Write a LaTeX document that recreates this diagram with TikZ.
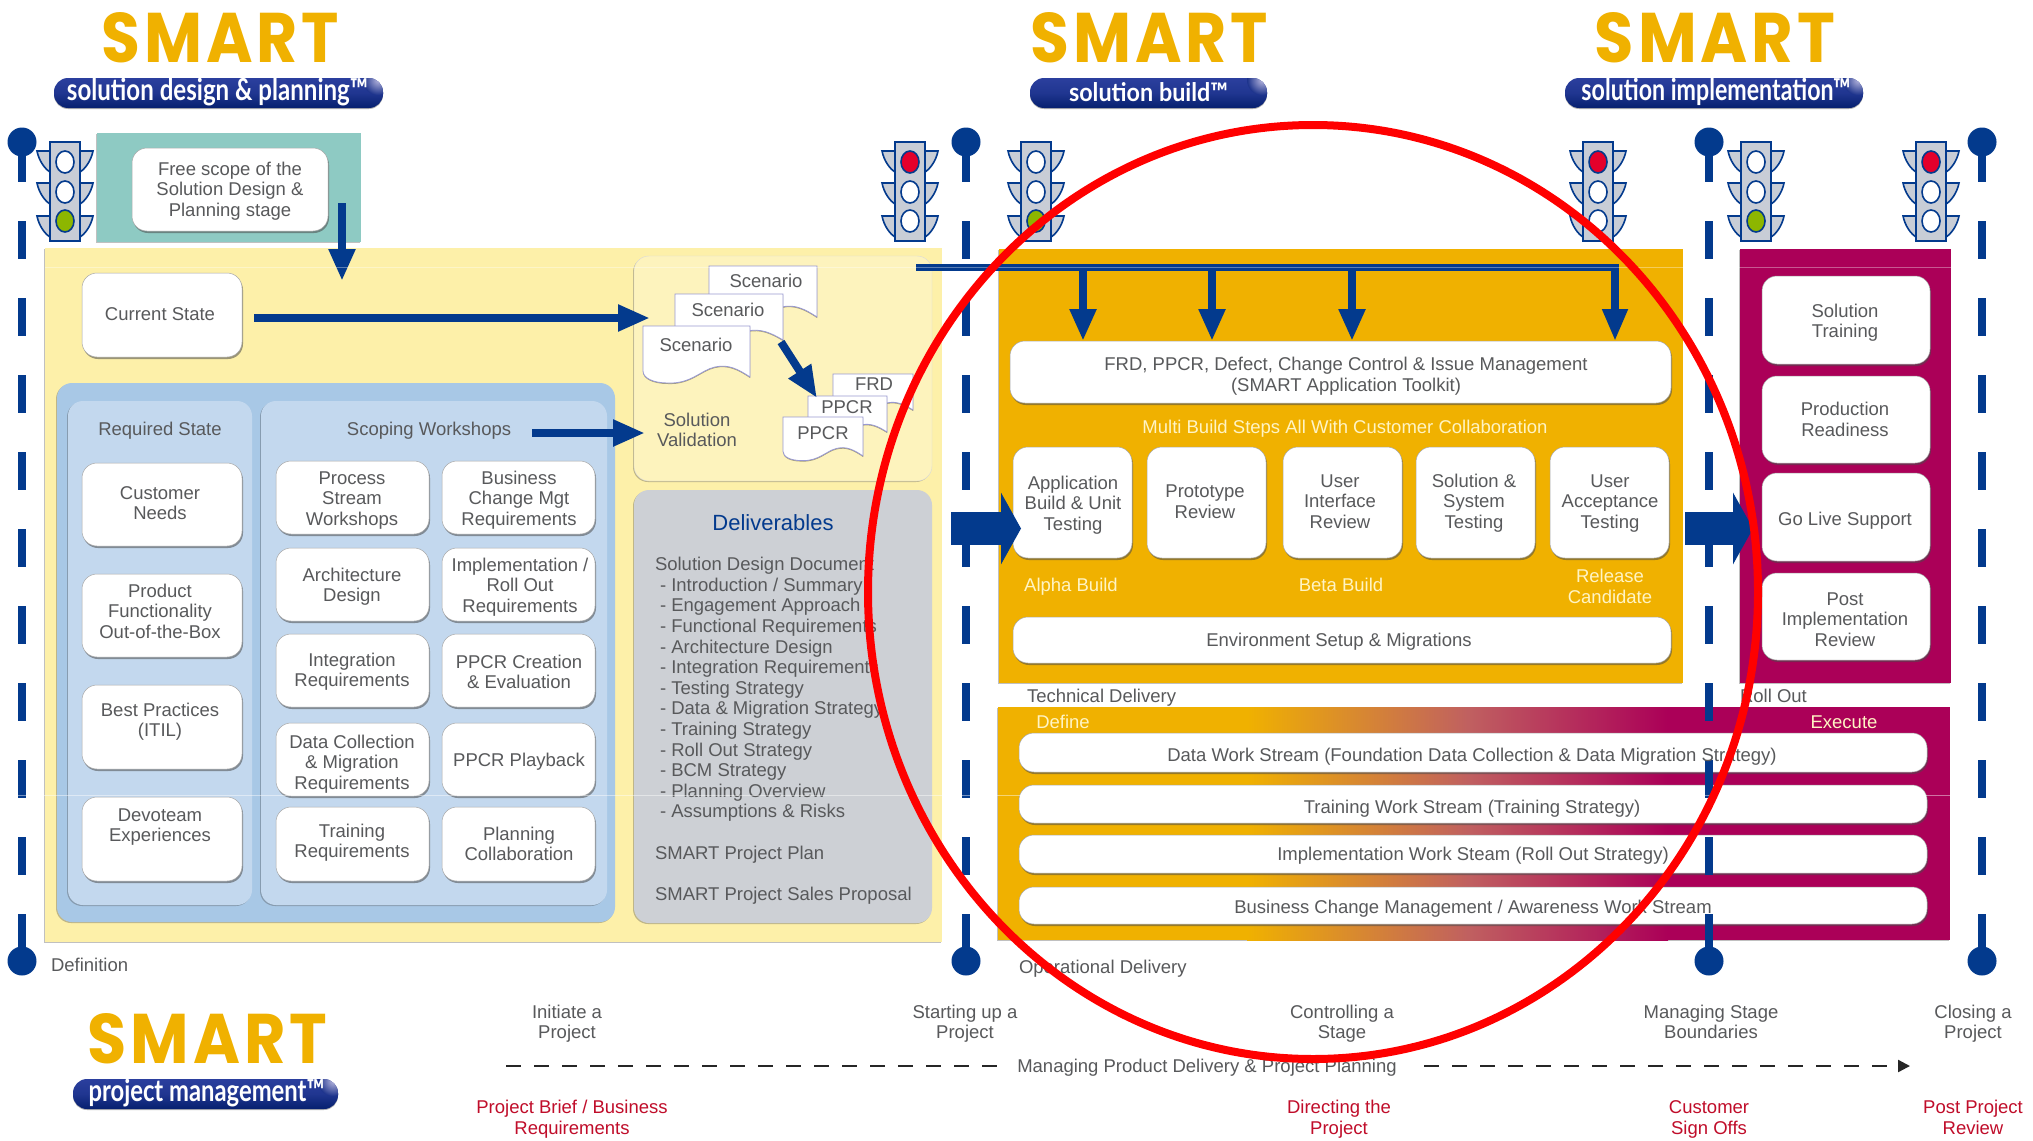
\documentclass[tikz,border=0pt]{standalone}
\usepackage{fontspec}
\usepackage{graphicx}
\setmainfont{Liberation Sans}
\newfontfamily\logofont[LetterSpace=6]{Poppins}
\newfontfamily\pillfont{Lato}
\usetikzlibrary{arrows.meta,shadows,calc}
\definecolor{navy}{HTML}{033A8D}
\definecolor{tgray}{HTML}{58595B}
\definecolor{gold}{HTML}{F0B100}
\definecolor{paleyellow}{HTML}{FDF0A9}
\definecolor{paleryellow}{HTML}{FDF3BD}
\definecolor{teal2}{HTML}{8ECAC3}
\definecolor{bluepanel}{HTML}{A8C8E6}
\definecolor{blueinner}{HTML}{C3D8EE}
\definecolor{graypanel}{HTML}{CDD0D5}
\definecolor{magenta2}{HTML}{AB0058}
\definecolor{cream}{HTML}{FFF4C4}
\definecolor{redtext}{HTML}{C00D2A}
\definecolor{lampred}{HTML}{E4002B}
\definecolor{lampgreen}{HTML}{8DB600}
\definecolor{tlgray}{HTML}{C8CDD6}
\definecolor{pilltop}{HTML}{2B3F9E}
\definecolor{pillbot}{HTML}{06206F}
\definecolor{pillhi}{HTML}{B4B4DC}
\definecolor{midgrad}{HTML}{C06060}
\tikzset{
  softshadow/.style={drop shadow={shadow xshift=1pt,shadow yshift=-2pt,opacity=.55,fill=black!70}},
  panelshadow/.style={drop shadow={shadow xshift=-1pt,shadow yshift=-1pt,opacity=.35,fill=black!70}},
  wbox/.style={fill=white,draw=black!35,line width=.5pt,rounded corners=15pt,softshadow},
  panel/.style={panelshadow},
  rpanel/.style={rounded corners=15pt,panelshadow},
  txt/.style={text=tgray,align=center,font=\fontsize{18.5}{20.6}\selectfont,inner sep=0pt,outer sep=0pt,yshift=-2.5pt},
  ctxt/.style={txt,text=cream},
  rtxt/.style={txt,text=redtext},
  thin arrow/.style={draw=navy,line width=8pt,-{Triangle[width=25pt,length=32pt]}},
  big arrow/.style={draw=navy,line width=33pt,-{Triangle[width=71pt,length=20pt]}},
  post/.style={draw=navy,line width=8pt},
  pill/.style={rounded corners=14pt,top color=pilltop,bottom color=pillbot,middle color=pilltop!70!pillbot,drop shadow={shadow xshift=0pt,shadow yshift=-1pt,opacity=.3,fill=black}},
  tlamp/.style={draw=navy,line width=1.6pt},
  docshape/.style={fill=white,draw=black!45!blue!40,line width=.8pt,drop shadow={shadow xshift=0pt,shadow yshift=-1pt,opacity=.35,fill=black}},
}
\newcommand{\bx}[6][wbox]{%
  \pgfmathsetmacro\bxw{#5-#3}\pgfmathsetmacro\bxh{#6-#4}%
  \pgfmathsetmacro\bxcx{(#3+#5)/2}\pgfmathsetmacro\bxcy{(#4+#6)/2}%
  \node[#1,inner sep=0pt,outer sep=0pt,minimum width=\bxw pt,minimum height=\bxh pt] (#2) at (\bxcx,\bxcy) {};}
\newcommand{\tx}[5][txt]{\node[#1] (#2) at (#3,#4) {\strut #5\strut};}
\newcommand{\tlight}[5]{%
  \begin{scope}[shift={(#1,141)}]
    \foreach \dy in {0,32,65}{
      \draw[tlamp,fill=tlgray,shift={(0,\dy)}] (-28,10) -- (28,10) .. controls (26,20) and (20,28) .. (15,31) -- (-15,31) .. controls (-20,28) and (-26,20) .. (-28,10) -- cycle;
    }
    \draw[tlamp,fill=tlgray] (-15,1) rectangle (15,100);
    \draw[tlamp,fill=#2] (0,21) ellipse [x radius=9,y radius=11];
    \draw[tlamp,fill=#3] (0,51) ellipse [x radius=9,y radius=11];
    \draw[tlamp,fill=#4] (0,80) ellipse [x radius=9,y radius=11];
  \end{scope}}
\newcommand{\wavedoc}[5]{% x1 y1 width height-scale
  \pgfmathsetmacro\dsx{#3/107}\pgfmathsetmacro\dsy{#4/51}%
  \begin{scope}[shift={(#1,#2)},xscale=\dsx,yscale=\dsy]
    \path[docshape] (0,0) -- (107,0) -- (107,51) .. controls (95,43) and (85,38) .. (72,41) .. controls (58,44) and (48,58) .. (25,57) .. controls (10,57) and (0,52) .. (0,45) -- cycle;
  \end{scope}}
\newcommand{\dashpost}[2]{%
  \fill[navy] (#1,142) circle (14.5);
  \coordinate (#2a) at (#1,142); \coordinate (#2b) at (#1,182);
  \draw[post] (#2a) -- (#2b);
  \foreach \yy in {221,298,375,452,529,606,683,760,837}{
    \draw[post] (#1,\yy) -- (#1,\yy+38);
  }
  \coordinate (#2c) at (#1,914); \coordinate (#2d) at (#1,961);
  \draw[post] (#2c) -- (#2d);
  \fill[navy] (#1,961) circle (14.5);}
\newcommand{\logo}[9]{% name x1 x2 y pill-x1 pill-x2 text-size text x-offset
  \node[inner sep=0pt,text=gold] (#1s) at ({(#2+#3)/2},#4+25) {\resizebox{\dimexpr#3pt-#2pt\relax}{50pt}{\logofont\bfseries SMART}};
  \begin{scope}
    \path[pill] (#5,#4+65) rectangle (#6,#4+95);
    \clip[rounded corners=14pt] (#5,#4+65) rectangle (#6,#4+95);
    \shade[inner color=pillhi,outer color=pilltop!60!pillbot] (#6-5,#4+67) circle (15);
  \end{scope}
  \node[inner sep=0pt,text=white] (#1p) at ({(#5+#6)/2+#9},#4+79) {\resizebox#7{\pillfont\bfseries #8}};}
\begin{document}
\begin{tikzpicture}[x=1pt,y=-1pt]
\useasboundingbox (0,0) rectangle (2033,1140);
\fill[white] (0,0) rectangle (2033,1140);

% logos
\logo{la}{102}{339}{13}{54}{383}{{301pt}{22.5pt}}{solution design \& planning™}{-1}
\logo{lb}{1031}{1268}{13}{1030}{1267}{{159pt}{19pt}}{solution build™}{0}
\logo{lc}{1595}{1835}{13}{1565}{1863}{{269pt}{22.5pt}}{solution implementation™}{2}
\logo{ld}{88}{327}{1014}{73}{338}{{236pt}{22.5pt}}{project management™}{1}

% background panels
\bx[panel,fill=teal2]{teal}{97}{133}{361}{242}
\bx[panel,fill=paleyellow]{yellow}{45}{248}{942}{942}
\bx[rpanel,fill=paleryellow,draw=black!15]{valid}{634}{256}{932}{481}
\bx[rpanel,fill=graypanel]{deliv}{634}{490}{932}{923}
\bx[rpanel,fill=bluepanel]{blueout}{57}{383}{615}{922}
\bx[rpanel,fill=blueinner]{bluea}{68}{401}{252}{905}
\bx[rpanel,fill=blueinner]{blueb}{261}{401}{607}{905}
\bx[panel,fill=gold]{orange}{999}{249}{1683}{683}
\bx[panel,fill=magenta2]{purple}{1740}{249}{1951}{683}
% gradient panel
\bx[panel,fill=gold]{gradbase}{998}{707}{1950}{940}
\fill[magenta2] (1668,707) rectangle (1950,940);
\shade[left color=gold,right color=midgrad] (1247,707) rectangle (1468,940);
\shade[left color=midgrad,right color=magenta2] (1468,707) rectangle (1668,940);

% white boxes, definition stage
\bx{free}{132}{148}{328}{231}
\bx{cur}{82}{273}{242}{357}
\bx{need}{82}{463}{242}{546}
\bx{func}{82}{574}{242}{657}
\bx{best}{82}{685}{242}{769}
\bx{devo}{82}{797}{242}{881}
\bx{proc}{276}{461}{429}{534}
\bx{busi}{442}{461}{595}{534}
\bx{arch}{276}{548}{429}{621}
\bx{impl}{442}{548}{595}{621}
\bx{inte}{276}{634}{429}{707}
\bx{ppcr}{442}{634}{595}{707}
\bx{data}{276}{723}{429}{796}
\bx{play}{442}{723}{595}{796}
\bx{trai}{276}{807}{429}{881}
\bx{plan}{442}{807}{595}{881}
% build boxes
\bx{frdbox}{1010}{341}{1671}{403}
\bx{appl}{1013}{447}{1132}{558}
\bx{prot}{1147}{447}{1266}{558}
\bx{user}{1283}{447}{1402}{558}
\bx{solu}{1416}{447}{1535}{558}
\bx{acce}{1550}{447}{1669}{558}
\bx{envi}{1013}{617}{1671}{663}
% rollout boxes
\bx{rola}{1762}{276}{1930}{364}
\bx{rolb}{1762}{376}{1930}{463}
\bx{rolc}{1762}{473}{1930}{561}
\bx{rold}{1762}{573}{1930}{660}
% work streams
\bx{wsa}{1019}{733}{1927}{772}
\bx{wsb}{1019}{785}{1927}{823}
\bx{wsc}{1019}{835}{1927}{873}
\bx{wsd}{1019}{887}{1927}{924}

% documents
\wavedoc{709}{266}{108}{51}{}
\wavedoc{675}{294}{108}{46}{}
\wavedoc{643}{326}{107}{51}{}
\wavedoc{833}{374}{80}{36}{}
\wavedoc{808}{396}{79}{36}{}
\wavedoc{783}{417}{80}{39}{}

% posts
\dashpost{22}{pa}
\dashpost{966}{pb}
\dashpost{1709}{pc}
\dashpost{1982}{pd}

% traffic lights
\tlight{65}{white}{white}{lampgreen}{}
\tlight{910}{lampred}{white}{white}{}
\tlight{1036}{white}{white}{lampgreen}{}
\tlight{1598}{lampred}{white}{white}{}
\tlight{1756}{white}{white}{lampgreen}{}
\tlight{1931}{lampred}{white}{white}{}

% connectors
\coordinate (aS) at (342,203); \coordinate (aE) at (342,281);
\draw[thin arrow] (aS) -- (aE);
\coordinate (bS) at (254,318); \coordinate (bE) at (650,318);
\draw[thin arrow] (bS) -- (bE);
\coordinate (cS) at (532,433); \coordinate (cE) at (645,433);
\draw[thin arrow] (cS) -- (cE);
\coordinate (dS) at (781,342); \coordinate (dE) at (817,398);
\draw[thin arrow] (dS) -- (dE);
\coordinate (eS) at (951,528.5); \coordinate (eE) at (1021,528.5);
\draw[big arrow] (eS) -- (eE);
\coordinate (fS) at (1685,528.5); \coordinate (fE) at (1753,528.5);
\draw[big arrow] (fS) -- (fE);
\coordinate (barS) at (916,267.5); \coordinate (barK) at (1615,267.5);
\draw[navy,line width=7.5pt,-{Triangle[width=24pt,length=32pt]}] (barS) -- (barK) -- (barK |- frdbox.north);
\foreach \xx/\nn in {1083/g,1212/h,1352/i}{
  \coordinate (\nn S) at (\xx,267.5);
  \draw[thin arrow] (\nn S) -- (\nn S |- frdbox.north);
}

% texts on boxes
\tx{tfree}{230}{189}{Free scope of the\\Solution Design \&\\Planning stage}
\tx{tcur}{160}{314}{Current State}
\tx{treq}{160}{429}{Required State}
\tx{tsco}{429}{429}{Scoping Workshops}
\tx{tneed}{160}{503}{Customer\\Needs}
\tx{tfunc}{160}{611}{Product\\Functionality\\Out-of-the-Box}
\tx{tbest}{160}{720}{Best Practices\\(ITIL)}
\tx{tdevo}{160}{825}{Devoteam\\Experiences}
\tx{tproc}{352}{498}{Process\\Stream\\Workshops}
\tx{tbusi}{519}{498}{Business\\Change Mgt\\Requirements}
\tx{tarch}{352}{585}{Architecture\\Design}
\tx{timpl}{520}{585}{Implementation /\\Roll Out\\Requirements}
\tx{tinte}{352}{670}{Integration\\Requirements}
\tx{tppcr}{519}{672}{PPCR Creation\\\& Evaluation}
\tx{tdata}{352}{762}{Data Collection\\\& Migration\\Requirements}
\tx{tplay}{519}{760}{PPCR Playback}
\tx{ttrai}{352}{841}{Training\\Requirements}
\tx{tplan}{519}{844}{Planning\\Collaboration}
% documents' text
\tx{sca}{766}{281}{Scenario}
\tx{scb}{728}{310}{Scenario}
\tx{scc}{696}{345}{Scenario}
\tx{frd}{874}{384}{FRD}
\tx{ppa}{847}{407}{PPCR}
\tx{ppb}{823}{433}{PPCR}
\tx{sval}{697}{430}{Solution\\Validation}
% deliverables
\node[txt,yshift=2.5pt,text=navy,font=\fontsize{22}{24}\selectfont] (dtitle) at (773,523) {Deliverables};
\node[txt,align=left,anchor=north west] (dlist) at (655,553.7) {\strut Solution Design Document\\
\hspace*{5pt}- Introduction / Summary\\
\hspace*{5pt}- Engagement Approach\\
\hspace*{5pt}- Functional Requirements\\
\hspace*{5pt}- Architecture Design\\
\hspace*{5pt}- Integration Requirements\\
\hspace*{5pt}- Testing Strategy\\
\hspace*{5pt}- Data \& Migration Strategy\\
\hspace*{5pt}- Training Strategy\\
\hspace*{5pt}- Roll Out Strategy\\
\hspace*{5pt}- BCM Strategy\\
\hspace*{5pt}- Planning Overview\\
\hspace*{5pt}- Assumptions \& Risks\\[20.6pt]
SMART Project Plan\\[20.6pt]
SMART Project Sales Proposal\strut};
% build
\tx{tfrd}{1346}{374.5}{FRD, PPCR, Defect, Change Control \& Issue Management\\(SMART Application Toolkit)}
\tx[ctxt]{tmul}{1345}{427}{Multi Build Steps All With Customer Collaboration}
\tx{tappl}{1073}{503}{Application\\Build \& Unit\\Testing}
\tx{tprot}{1205}{501.5}{Prototype\\Review}
\tx{tuser}{1340}{501}{User\\Interface\\Review}
\tx{tsolu}{1474}{501}{Solution \&\\System\\Testing}
\tx{tacce}{1610}{501}{User\\Acceptance\\Testing}
\tx[ctxt]{talp}{1071}{585}{Alpha Build}
\tx[ctxt]{tbet}{1341}{585}{Beta Build}
\tx[ctxt]{trel}{1610}{586.5}{Release\\Candidate}
\tx{tenv}{1339}{640}{Environment Setup \& Migrations}
\node[txt,anchor=west] (ttech) at (1027,696) {\strut Technical Delivery};
\node[txt,anchor=west] (troll) at (1740,696) {\strut Roll Out};
% rollout
\tx{tra}{1845}{321}{Solution\\Training}
\tx{trb}{1845}{419.5}{Production\\Readiness}
\tx{trc}{1845}{519}{Go Live Support}
\tx{trd}{1845}{619}{Post\\Implementation\\Review}
% streams
\tx[ctxt]{tdef}{1063}{722}{Define}
\tx[ctxt]{texe}{1844}{722}{Execute}
\tx{twa}{1472}{755}{Data Work Stream (Foundation Data Collection \& Data Migration Strategy)}
\tx{twb}{1472}{807}{Training Work Stream (Training Strategy)}
\tx{twc}{1473}{854}{Implementation Work Steam (Roll Out Strategy)}
\tx{twd}{1473}{907}{Business Change Management / Awareness Work Stream}
\node[txt,anchor=west] (toper) at (1019,967) {\strut Operational Delivery};
\node[txt,anchor=west] (tdefi) at (51,965) {\strut Definition};
% bottom
\tx{tbia}{567}{1022}{Initiate a\\Project}
\tx{tbib}{965}{1022}{Starting up a\\Project}
\tx{tbic}{1342}{1022}{Controlling a\\Stage}
\tx{tbid}{1711}{1022}{Managing Stage\\Boundaries}
\tx{tbie}{1973}{1022}{Closing a\\Project}
\tx{tman}{1207}{1066}{Managing Product Delivery \& Project Planning}
\coordinate (mA) at (506,1066); \coordinate (mB) at (998,1066);
\coordinate (mC) at (1424,1066); \coordinate (mD) at (1910,1066);
\draw[black!85,line width=2.2pt,dash pattern=on 15pt off 13pt] (mA) -- (mB);
\draw[black!85,line width=2.2pt,dash pattern=on 15pt off 13pt,-{Triangle[width=12pt,length=12pt]}] (mC) -- (mD);
\tx[rtxt]{tra1}{572}{1117.5}{Project Brief / Business\\Requirements}
\tx[rtxt]{tra2}{1339}{1117.5}{Directing the\\Project}
\tx[rtxt]{tra3}{1709}{1117.5}{Customer\\Sign Offs}
\tx[rtxt]{tra4}{1973}{1117.5}{Post Project\\Review}

% scan seams
\draw[white,opacity=.35,line width=.6pt] (45,267) -- (1951,267);
\draw[white,opacity=.45,line width=.7pt] (0,795.5) -- (1951,795.5);

% red ellipse
\draw[red,line width=8pt] (1313,592) ellipse [x radius=445,y radius=467];
\end{tikzpicture}
\end{document}
